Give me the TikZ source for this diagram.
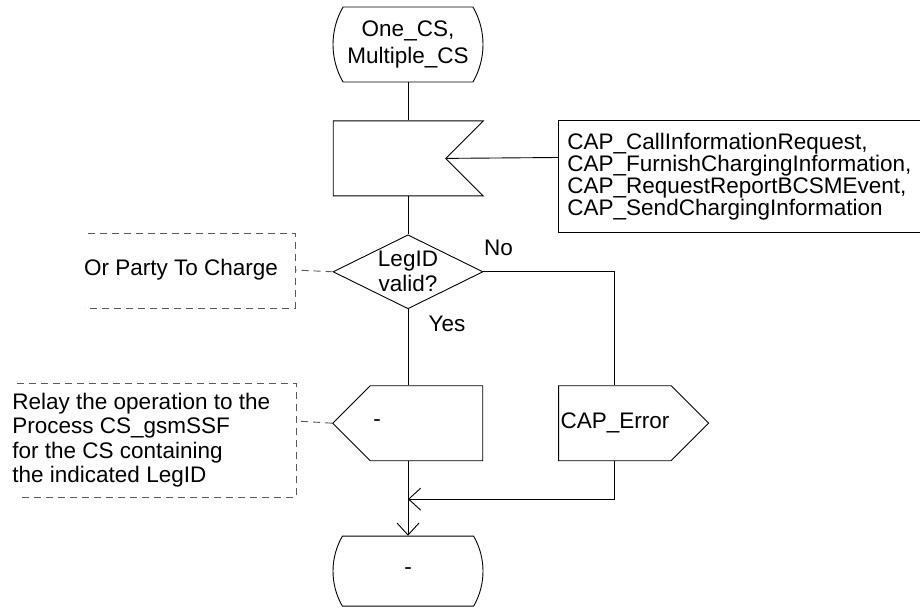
\documentclass[tikz,border=0pt]{standalone}
\usepackage{fontspec}
\setmainfont{Liberation Sans}
\usetikzlibrary{shapes.geometric, shapes.misc, shapes.symbols, arrows.meta, positioning}

\begin{document}
\begin{tikzpicture}[
    x=1pt, y=-1pt,
    node distance=38pt,
    font=\fontsize{22.5pt}{25pt}\selectfont,
    line width=0.9pt,
    state/.style={rounded rectangle, rounded rectangle arc length=60, draw,
                  minimum width=150pt, minimum height=75pt, inner sep=0pt, align=center},
    inbox/.style={signal, signal to=nowhere, signal from=east, draw,
                  minimum width=150pt, minimum height=75pt, inner sep=0pt},
    outbox/.style={signal, signal to=east, draw,
                   minimum width=150pt, minimum height=75pt, inner sep=0pt},
    sendbox/.style={signal, signal to=west, draw,
                    minimum width=150pt, minimum height=75pt, inner sep=0pt},
    decision/.style={diamond, draw, minimum width=150pt, minimum height=74pt,
                     inner sep=0pt},
    cmt/.style={draw=black!65, dash pattern=on 7pt off 5pt},
    arr/.style={-{Straight Barb[length=12pt, width=22pt]}}
]
    \useasboundingbox (0,0) rectangle (920,609);

    \node[state, font=\fontsize{22.5pt}{26.5pt}\selectfont] (start) at (408,44.5) {One\_CS,\\Multiple\_CS};
    \node[inbox, below=of start, xshift=-18.5pt] (recv) {};
    \node[decision, below=of recv, xshift=18.5pt] (valid) {};
    \node[align=center] (validtxt) at (valid) {LegID\\valid?};
    \node[sendbox, below=76pt of valid, xshift=18.5pt] (send) {};
    \node (sendtxt) at ([xshift=45pt]send.west) {-};
    \node[outbox, right=75pt of send] (err) {CAP\_Error};
    \coordinate (merge) at ([yshift=-38pt]send.south -| valid.south);
    \node[state, minimum height=70pt] (stop) at ([yshift=-72pt]merge) {-};

    % signal list
    \draw (920,232) -- (558,232) -- (558,120) -- (920,120);
    \coordinate (msgbox) at (558,157.5);
    \node[anchor=north west, align=left, inner sep=0pt,
          font=\fontsize{22.5pt}{18.7pt}\selectfont] (msgs) at (567,133)
        {CAP\_CallInformationRequest,\\CAP\_FurnishChargingInformation,\\
         CAP\_RequestReportBCSMEvent,\\CAP\_SendChargingInformation};

    % comments
    \node (party) at (181,270) {Or Party To Charge};
    \draw[cmt] (88,233) -- (295,233) -- (295,308) -- (85,308);
    \coordinate (partybox) at (295,270);
    \node[anchor=west, align=left, inner sep=0pt,
          font=\fontsize{22.5pt}{24.5pt}\selectfont] (relay) at (12,440)
        {Relay the operation to the\\Process CS\_gsmSSF\\for the CS containing\\the indicated LegID};
    \draw[cmt] (17,383) -- (296,383) -- (296,497) -- (17,497);
    \coordinate (relaybox) at (296,421);

    \node (nolbl) at ([xshift=15pt, yshift=24pt]valid.east) {No};
    \node (yeslbl) at ([xshift=39pt, yshift=-15pt]valid.south) {Yes};

    \draw (start.south) -- (start.south |- recv.north);
    \draw (start.south |- recv.south) -- (valid.north);
    \draw (valid.south) -- (valid.south |- send.north);
    \draw (msgbox) -- (recv.east);
    \draw[cmt] (valid.west) -- (partybox);
    \draw[cmt] (send.west) -- (relaybox);
    \draw (valid.east) -| (err.north);
    \draw[arr] (err.south) |- (merge);
    \draw[arr] (valid.south |- send.south) -- (stop.north);
\end{tikzpicture}
\end{document}
